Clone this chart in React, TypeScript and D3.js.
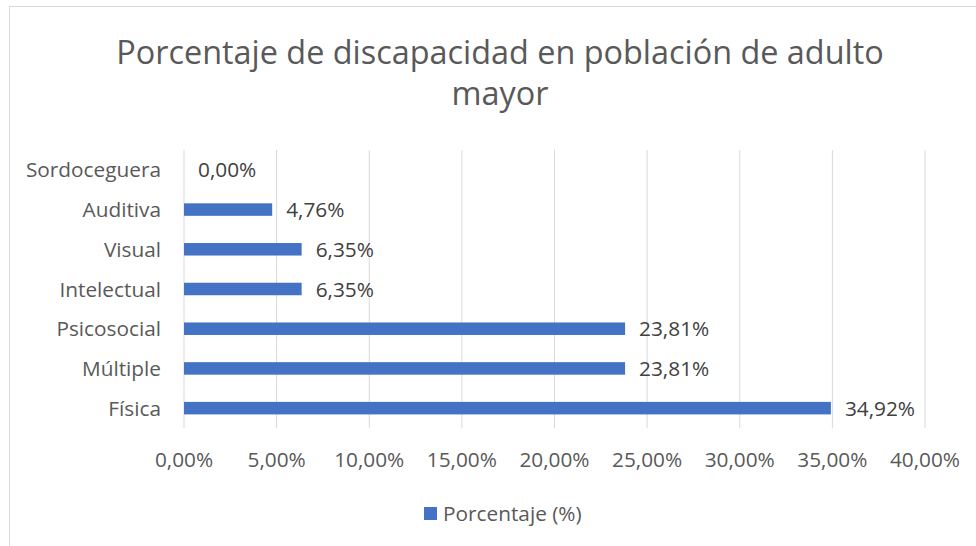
import React from "react";
import * as d3 from "d3";

const categories = ["Sordoceguera", "Auditiva", "Visual", "Intelectual", "Psicosocial", "Múltiple", "Física"];
const values = [0.0, 4.76, 6.35, 6.35, 23.81, 23.81, 34.92];
const ticks = [0, 5, 10, 15, 20, 25, 30, 35, 40];
const titleLines = ["Porcentaje de discapacidad en población de adulto", "mayor"];
const legendLabel = "Porcentaje (%)";

const W = 976;
const H = 546;
const FONT = "'Open Sans', sans-serif";
const fmt = (v: number) => v.toFixed(2).replace(".", ",") + "%";

export default function App() {
  const x = d3.scaleLinear().domain([0, 40]).range([184, 925]);
  const y = d3.scaleBand<string>().domain(categories).range([150, 428]).paddingInner(0.685).paddingOuter(0.3425);
  const bh = y.bandwidth();
  const fs = 20.8;
  return (
    <svg width={W} height={H} style={{ position: "absolute", left: 0, top: 0, background: "#fff" }} fontFamily={FONT}>
      <rect x={9.5} y={6.5} width={1200} height={800} fill="#fff" stroke="#d9d9d9" strokeWidth={1} />
      {titleLines.map((t, i) => (
        <text key={i} x={500} y={64 + i * 41} textAnchor="middle" fontSize={32.4} fill="#595959">{t}</text>
      ))}
      {ticks.map((t) => (
        <line key={t} x1={x(t)} x2={x(t)} y1={150} y2={428} stroke="#d9d9d9" strokeWidth={1} />
      ))}
      {ticks.map((t) => (
        <text key={"l" + t} x={x(t)} y={467} textAnchor="middle" fontSize={fs} fill="#595959">{fmt(t)}</text>
      ))}
      {categories.map((c, i) => {
        const yc = (y(c) as number) + bh / 2;
        return (
          <g key={c}>
            <text x={161} y={yc + 7.5} textAnchor="end" fontSize={fs} fill="#595959">{c}</text>
            {values[i] > 0 && (
              <rect x={x(0)} y={yc - bh / 2} width={x(values[i]) - x(0)} height={bh} fill="#4472c4" />
            )}
            <text x={x(values[i]) + 14} y={yc + 7.5} fontSize={fs} fill="#404040">{fmt(values[i])}</text>
          </g>
        );
      })}
      <rect x={424} y={507} width={13} height={13} fill="#4472c4" />
      <text x={443} y={521} fontSize={fs} fill="#595959">{legendLabel}</text>
    </svg>
  );
}
